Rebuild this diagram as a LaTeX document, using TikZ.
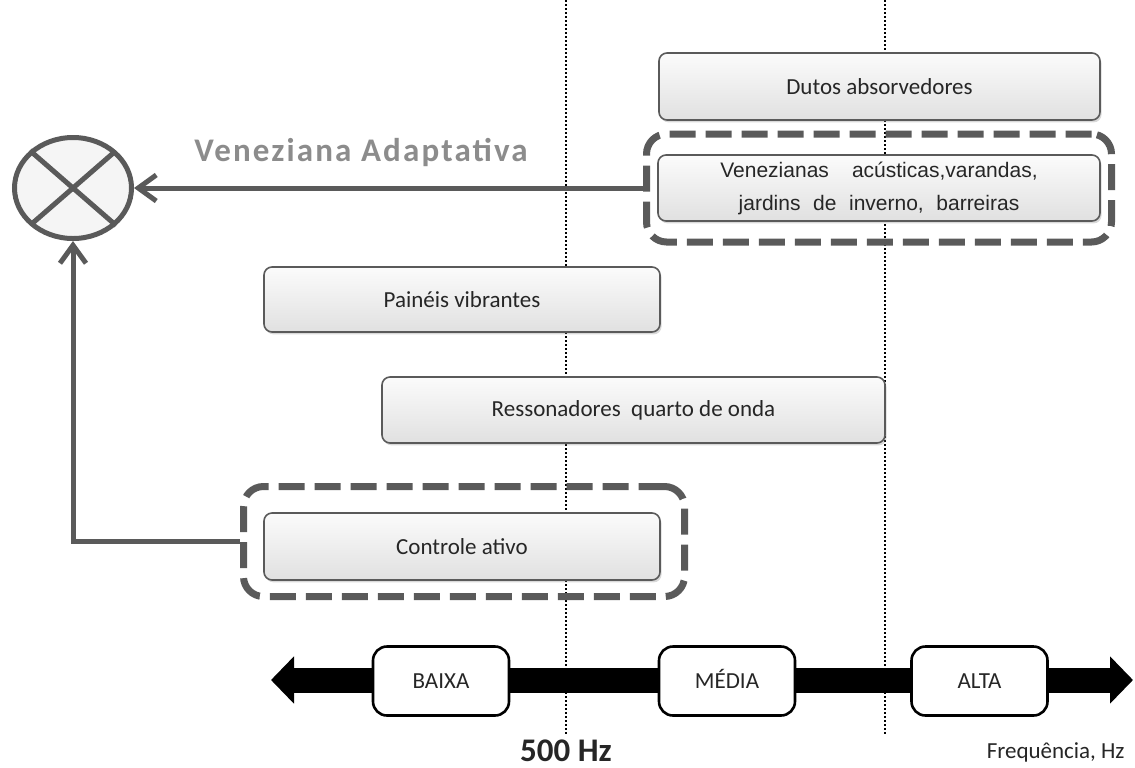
\documentclass[tikz,border=0pt]{standalone}
\usepackage{fontspec}
\setmainfont{Carlito}
\newfontfamily\arialfont{Liberation Sans}
\usetikzlibrary{arrows.meta,shapes.geometric,shadows}
\definecolor{linegray}{HTML}{5A5A5A}
\definecolor{labelgray}{HTML}{8C8C8C}
\definecolor{textgray}{HTML}{262626}
\tikzset{
  band/.style={rectangle, rounded corners=4pt, draw=linegray, line width=0.8pt,
    top color=gray!3, bottom color=gray!24, inner sep=0pt, text=textgray,
    drop shadow={shadow xshift=0.8pt, shadow yshift=-1.2pt, opacity=0.3},
    font=\fontsize{11.5}{13}\selectfont},
  group/.style={rectangle, rounded corners=10pt, draw=linegray, line width=3.5pt,
    dash pattern=on 13pt off 5pt, inner sep=0pt},
  flow/.style={draw=linegray, line width=2.5pt, -{Straight Barb[length=9pt,width=13pt]}},
  rangebox/.style={rectangle, rounded corners=7pt, draw=black, line width=1.3pt, fill=white,
    minimum width=68pt, minimum height=34.5pt, text=textgray,
    text height=7.5pt, text depth=0pt, font=\fontsize{11.5}{13}\selectfont},
  guide/.style={line width=0.7pt, dash pattern=on 0.9pt off 1.1pt}
}
\begin{document}
\begin{tikzpicture}[x=0.5pt, y=-0.5pt]
\useasboundingbox (0,0) rectangle (1135,767);
\draw[guide] (566,0) -- (566,735);
\draw[guide] (885,0) -- (885,735);

\node[band, minimum width=220.5pt, minimum height=33.5pt] (dutos) at (879.5,86.5) {Dutos absorvedores};
\node[band, minimum width=221pt, minimum height=33pt, align=center,
      font=\arialfont\fontsize{10.5}{16.5}\selectfont] (venez) at (879,188)
      {Venezianas\hspace{1.1em}acústicas,varandas,\\
       jardins\hspace{0.6em}de\hspace{0.6em}inverno,\hspace{0.6em}barreiras};
\node[group, minimum width=232.5pt, minimum height=54pt] (venezgrp) at (879,188) {};
\node[band, minimum width=198pt, minimum height=32.5pt] (paineis) at (462,299.5) {Painéis vibrantes};
\node[band, minimum width=251.5pt, minimum height=33pt] (resson) at (633.5,410) {Ressonadores\ \ quarto de onda};
\node[band, minimum width=198pt, minimum height=33.5pt] (controle) at (462,546.5) {Controle ativo};
\node[group, minimum width=220.5pt, minimum height=55pt] (ctrlgrp) at (464,541.5) {};

\node[ellipse, draw=linegray, line width=2.5pt, fill=gray!8,
      minimum width=58.5pt, minimum height=50.5pt] (sum) at (73,188) {};
\draw[linegray, line width=2.5pt, shorten <=1pt, shorten >=1pt]
  (sum.north west) -- (sum.south east) (sum.north east) -- (sum.south west);
\node[text=labelgray, font=\bfseries\fontsize{16.5}{18}\selectfont\addfontfeatures{LetterSpace=6.5}]
  (vlabel) at (361,152) {Veneziana\ Adaptativa};

\draw[flow] (venezgrp.west) -- (sum.east);
\draw[flow] (ctrlgrp.west) -| (sum.south);

\coordinate (lo) at (271,680);
\coordinate (hi) at (1133,680);
\draw[line width=12.5pt, {Triangle[length=11.5pt,width=23pt]}-{Triangle[length=11.5pt,width=23pt]}] (lo) -- (hi);
\node[rangebox] (baixa) at (441,681) {BAIXA};
\node[rangebox] (media) at (727,681) {MÉDIA};
\node[rangebox] (alta) at (979.5,681) {ALTA};

\node[text=textgray, font=\bfseries\fontsize{16.5}{18}\selectfont] (hz) at (566,751) {500 Hz};
\node[text=textgray, font=\fontsize{11.5}{13}\selectfont, anchor=south east, inner sep=0pt]
  (freq) at (1125,763) {Frequência, Hz};
\end{tikzpicture}
\end{document}
